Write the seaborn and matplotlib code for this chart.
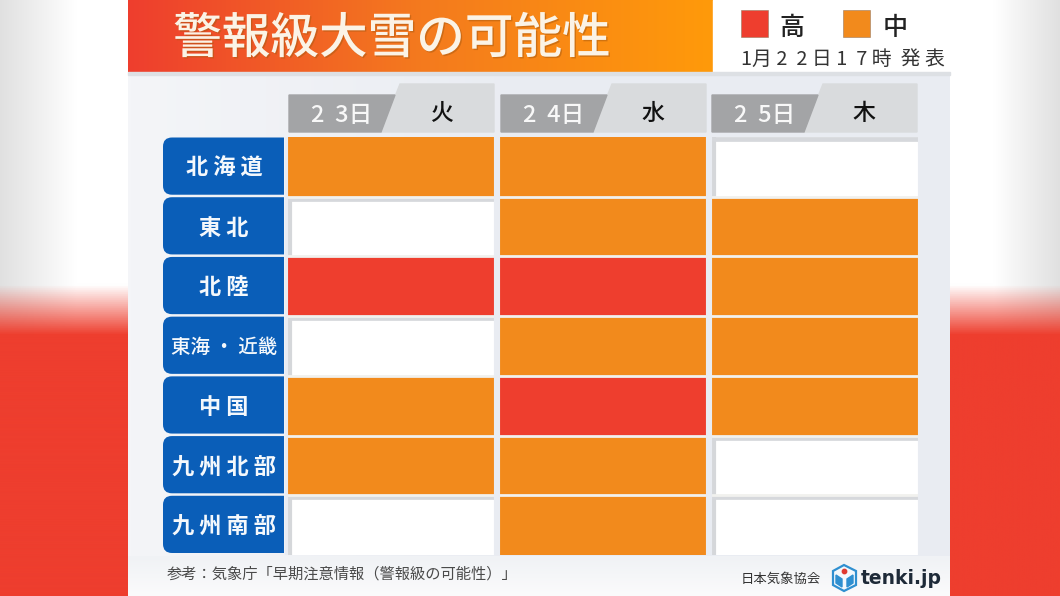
import numpy as np
import matplotlib
matplotlib.use("Agg")
import matplotlib.pyplot as plt
from matplotlib.colors import ListedColormap, LinearSegmentedColormap, to_rgb
from matplotlib.patches import FancyBboxPatch, Polygon, Rectangle
import matplotlib.patheffects as pe
import seaborn as sns

# ── Data ───────────────────────────────────────────────────────────────────────
TITLE   = "警報級大雪の可能性"
ISSUED  = "1月 2  2 日 1  7 時  発 表"
SOURCE  = "参考：気象庁「早期注意情報（警報級の可能性）」"
ORG     = "日本気象協会"
BRAND   = "tenki.jp"
REGIONS = ["北海道", "東北", "北陸", "東海・近畿", "中国", "九州北部", "九州南部"]
DAYS    = ["23日", "24日", "25日"]
WEEK    = ["火", "水", "木"]
LEGEND  = ["高", "中"]
# 0 = none, 1 = 中, 2 = 高
DAY23 = [1, 0, 2, 0, 1, 1, 0]
DAY24 = [1, 1, 2, 1, 2, 1, 1]
DAY25 = [0, 1, 1, 1, 1, 0, 0]

RED, ORANGE, BLUE = "#EE3E2E", "#F28A1C", "#0A5EB8"
PANEL = "#E9ECF2"
W, H = 1060, 596

sns.set_theme(style="white")
plt.rcParams["font.family"] = ["Noto Sans CJK JP", "DejaVu Sans"]

fig = plt.figure(figsize=(W / 100, H / 100), dpi=100)

# ── Background, in pixel coordinates ───────────────────────────────────────────
bg = fig.add_axes([0, 0, 1, 1])
bg.set_xlim(0, W)
bg.set_ylim(H, 0)
bg.axis("off")


def gradient(ax, extent, colors, vertical=False, zorder=0):
    cmap = LinearSegmentedColormap.from_list("g", colors)
    ramp = np.linspace(0, 1, 256)
    ramp = ramp[:, None] if vertical else ramp[None, :]
    ax.imshow(ramp, cmap=cmap, extent=extent, aspect="auto", zorder=zorder)


def side_strip(ax, x0, x1, outer_left):
    # pale blurred top that melts into the red lower part
    ys = np.linspace(0, H, 300)[:, None]
    xs = np.linspace(0, 1, 128)[None, :]
    if not outer_left:
        xs = xs[:, ::-1]
    grey = 0.88 + 0.12 * np.clip(xs / 0.6, 0, 1)
    mix = np.clip((ys - 285) / 50, 0, 1)
    img = np.zeros((300, 128, 3))
    for i, c in enumerate(to_rgb(RED)):
        img[:, :, i] = grey * (1 - mix) + c * mix
    ax.imshow(img, extent=(x0, x1, H, 0), aspect="auto", zorder=0)


side_strip(bg, 0, 128, True)
side_strip(bg, 950, W, False)

gradient(bg, (128, 950, 596, 72), ["#F4F5F8", PANEL, PANEL], zorder=1)
gradient(bg, (128, 950, 596, 556), ["#F0F2F5", "#FBFBFC"], vertical=True, zorder=1)
gradient(bg, (128, 713, 72, 0), [RED, "#F47A1E", "#FF9A0A"], zorder=2)
bg.add_patch(Rectangle((713, 0), 237, 72, color="white", zorder=2))
bg.add_patch(Rectangle((128, 72), 822, 3, color="#DDE0E4", zorder=2))
bg.set_xlim(0, W)
bg.set_ylim(H, 0)

bg.text(392, 39, TITLE, fontsize=35, color="#FBF3E6", weight="medium",
        ha="center", va="center", zorder=5,
        path_effects=[pe.withSimplePatchShadow(offset=(1, -1), shadow_rgbFace="#A85A10", alpha=0.5)])

# legend and issue time
for x, col, label, tx in zip([741, 843], [RED, ORANGE], LEGEND, [792, 895]):
    bg.add_patch(Rectangle((x, 10), 27, 27, facecolor=col, edgecolor="#9A7A60", lw=0.4, zorder=3))
    bg.text(tx, 28, label, fontsize=18, color="#222222", weight="medium",
            ha="center", va="center", zorder=5)
bg.text(843, 59, ISSUED, fontsize=14.3, color="#333333", ha="center", va="center", zorder=5)

# ── Heat grid ──────────────────────────────────────────────────────────────────
COL_PITCH = 212
GX0, GX1, GY0, GY1 = 285, 285 + 3 * COL_PITCH, 137, 555
ax = fig.add_axes([GX0 / W, 1 - GY1 / H, (GX1 - GX0) / W, (GY1 - GY0) / H])
levels = np.array([DAY23, DAY24, DAY25]).T
sns.heatmap(levels, ax=ax, cmap=ListedColormap(["white", ORANGE, RED]), vmin=0, vmax=2,
            cbar=False, xticklabels=False, yticklabels=False, square=False)

# soft shadow along the top and left of the empty cells
for r, row in enumerate(levels):
    for c, val in enumerate(row):
        if val == 0:
            ax.plot([c + 0.022, c + 0.022], [r, r + 1], color="#D5D7DA", lw=3, solid_capstyle="butt")
            ax.plot([c, c + 1], [r + 0.035, r + 0.035], color="#D6D8DC", lw=3.4, solid_capstyle="butt")
for r in range(1, len(REGIONS)):
    ax.axhline(r, color="#F1F1EE", lw=2.0)
for c in range(len(DAYS) + 1):
    ax.axvline(c, color=PANEL, lw=4.4)

# ── Column headers ─────────────────────────────────────────────────────────────
for i, (day, wd) in enumerate(zip(DAYS, WEEK)):
    x = 289 + i * COL_PITCH - (1 if i == 2 else 0)
    bg.add_patch(Polygon([(x + 92, 132), (x + 111, 84), (x + 205, 84), (x + 205, 132)],
                         closed=True, color="#D9DBDD", zorder=3))
    bg.add_patch(Polygon([(x, 95), (x + 106, 95), (x + 92, 132), (x, 132)],
                         closed=True, color="#A3A4A6", zorder=3))
    bg.text(x + 53, 116, "  ".join(day[:2]) + day[2], fontsize=17, color="#F8F8F8", weight="medium",
            ha="center", va="center", zorder=5)
    bg.text(x + 152, 113, wd, fontsize=16.5, color="#111111", weight="medium",
            ha="center", va="center", zorder=5)

# ── Region tabs ────────────────────────────────────────────────────────────────
row_h = (GY1 - GY0) / len(REGIONS)
for i, name in enumerate(REGIONS):
    y = GY0 + i * row_h
    # rounded box runs past the right edge and is clipped, so only the left corners stay round
    tab = FancyBboxPatch((163, y + 0.5), 150, row_h - 2.5, lw=0,
                         boxstyle="round,pad=0,rounding_size=9", color=BLUE, zorder=3)
    bg.add_patch(tab)
    tab.set_clip_path(Rectangle((163, y), 121, row_h, transform=bg.transData))
    small = len(name) > 4
    label = " ".join(name) if not small else name.replace("・", " ・ ")
    bg.text(224, y + row_h / 2 + 1.5, label, fontsize=14 if small else 16,
            color="#F4F8FC", weight="medium" if small else "bold",
            ha="center", va="center", zorder=5)

# ── Footer ─────────────────────────────────────────────────────────────────────
bg.text(167, 574, SOURCE, fontsize=11, color="#4A4A4A", ha="left", va="center", zorder=5)
bg.text(781, 579, ORG, fontsize=9.6, color="#333333", ha="center", va="center", zorder=5)
bg.text(861, 578, BRAND, fontsize=13.5, color="#1E2A38", weight="bold",
        family=["DejaVu Sans"], ha="left", va="center", zorder=5)

# little tenki.jp cube
bg.add_patch(Polygon([(844, 565), (856, 571), (856, 585), (844, 591), (833, 585), (833, 571)],
                     closed=True, facecolor="#F4F8FC", edgecolor="#2F8FD0", lw=1.6, zorder=5))
bg.add_patch(Polygon([(836, 575), (842, 579), (842, 587), (836, 583)], closed=True, color="#2F8FD0", zorder=6))
bg.add_patch(Polygon([(853, 575), (847, 579), (847, 587), (853, 583)], closed=True, color="#2F8FD0", zorder=6))
bg.scatter([844], [571], s=10, color="#E03A30", zorder=7)

fig.savefig("out.png", dpi=100)
